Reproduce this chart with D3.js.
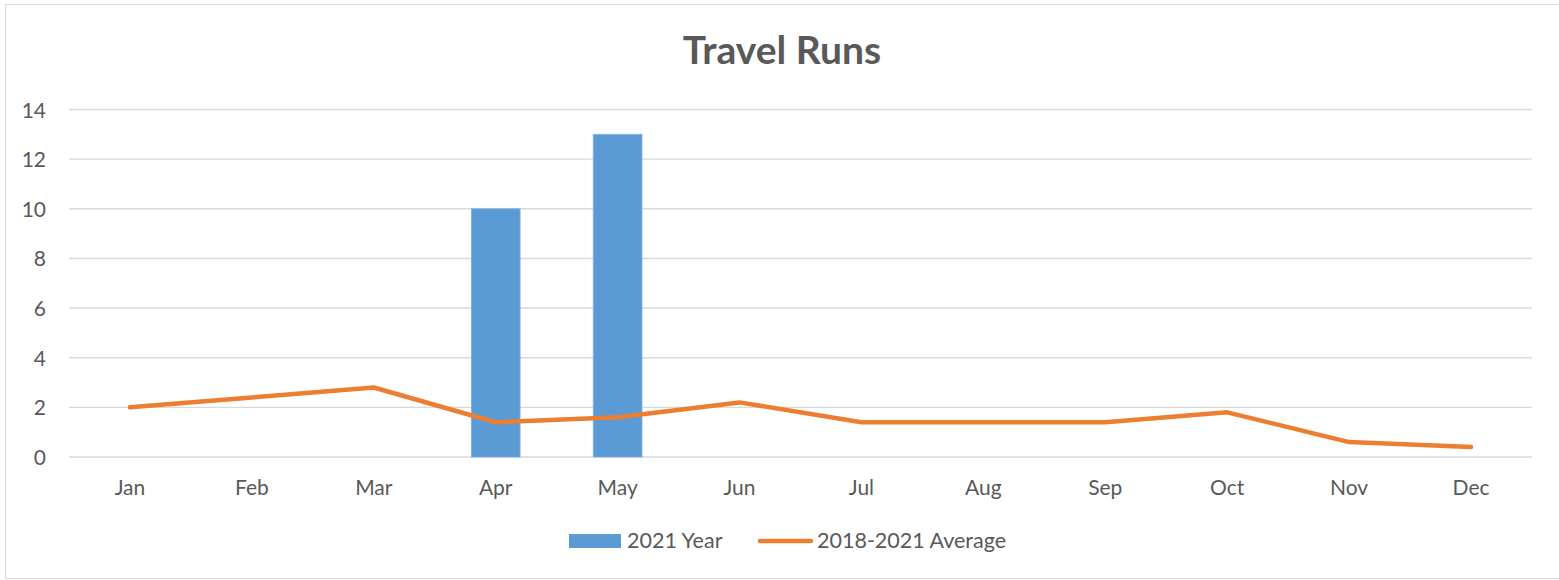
<!DOCTYPE html>
<html>
<head>
<meta charset="utf-8">
<script src="https://cdn.jsdelivr.net/npm/d3@7"></script>
<style>
  html, body { margin: 0; padding: 0; background: #fff; }
  svg { display: block; }
  text { font-family: Lato, "Open Sans", sans-serif; fill: #595959; }
</style>
</head>
<body>
<svg id="chart" width="1559" height="580"></svg>
<script>
const months = ["Jan","Feb","Mar","Apr","May","Jun","Jul","Aug","Sep","Oct","Nov","Dec"];
const year2021 = [null, null, null, 10, 13, null, null, null, null, null, null, null];
const average = [2, 2.4, 2.8, 1.4, 1.6, 2.2, 1.4, 1.4, 1.4, 1.8, 0.6, 0.4];
const yTicks = [0, 2, 4, 6, 8, 10, 12, 14];
const seriesNames = ["2021 Year", "2018-2021 Average"];
const title = "Travel Runs";

const svg = d3.select("#chart");
const W = 1559, H = 580;

// chart border
svg.append("rect").attr("x", 5.5).attr("y", 4.5).attr("width", W + 10).attr("height", H - 6)
  .attr("fill", "#fff").attr("stroke", "#D9D9D9").attr("stroke-width", 1);

const x = d3.scaleBand().domain(months).range([69, 1532]).paddingInner(0.6).paddingOuter(0.3);
const y = d3.scaleLinear().domain([0, 14]).range([457, 109.5]);

// gridlines
svg.append("g").selectAll("line").data(yTicks).join("line")
  .attr("x1", 69).attr("x2", 1532)
  .attr("y1", d => y(d)).attr("y2", d => y(d))
  .attr("stroke", "#D9D9D9").attr("stroke-width", 1.4);

// y axis labels
const yAxis = d3.axisLeft(y).tickValues(yTicks).tickSize(0).tickPadding(0);
const yg = svg.append("g").attr("transform", "translate(46,0)").call(yAxis);
yg.select(".domain").remove();
yg.selectAll("text").attr("font-size", 21).attr("fill", "#595959")
  .style("font-family", "Lato, 'Open Sans', sans-serif").attr("dy", "0.36em");

// x axis labels
const xAxis = d3.axisBottom(x).tickSize(0).tickPadding(0);
const xg = svg.append("g").attr("transform", "translate(0,479)").call(xAxis);
xg.select(".domain").remove();
xg.selectAll("text").attr("font-size", 21).attr("fill", "#595959")
  .style("font-family", "Lato, 'Open Sans', sans-serif").attr("dy", "0.76em");

// bars
svg.append("g").selectAll("rect")
  .data(months.map((m, i) => ({ m, v: year2021[i] })).filter(d => d.v != null))
  .join("rect")
  .attr("x", d => x(d.m)).attr("width", x.bandwidth())
  .attr("y", d => y(d.v)).attr("height", d => y(0) - y(d.v))
  .attr("fill", "#5B9BD5").attr("stroke", "#7FB0DE").attr("stroke-width", 0.8);

// line
const line = d3.line().x((d, i) => x(months[i]) + x.bandwidth() / 2).y(d => y(d));
svg.append("path").datum(average).attr("d", line)
  .attr("fill", "none").attr("stroke", "#ED7D31").attr("stroke-width", 4.5)
  .attr("stroke-linecap", "round").attr("stroke-linejoin", "round");

// title
svg.append("text").attr("x", 782).attr("y", 64).attr("text-anchor", "middle")
  .attr("font-size", 39).attr("font-weight", "bold").text(title);

// legend
const lg = svg.append("g");
lg.append("rect").attr("x", 569).attr("y", 534).attr("width", 52).attr("height", 14).attr("fill", "#5B9BD5");
lg.append("text").attr("x", 627).attr("y", 548).attr("font-size", 21.5).text(seriesNames[0]);
lg.append("line").attr("x1", 760).attr("x2", 811).attr("y1", 541).attr("y2", 541)
  .attr("stroke", "#ED7D31").attr("stroke-width", 4.5).attr("stroke-linecap", "round");
lg.append("text").attr("x", 817).attr("y", 548).attr("font-size", 21.5).text(seriesNames[1]);
</script>
</body>
</html>
